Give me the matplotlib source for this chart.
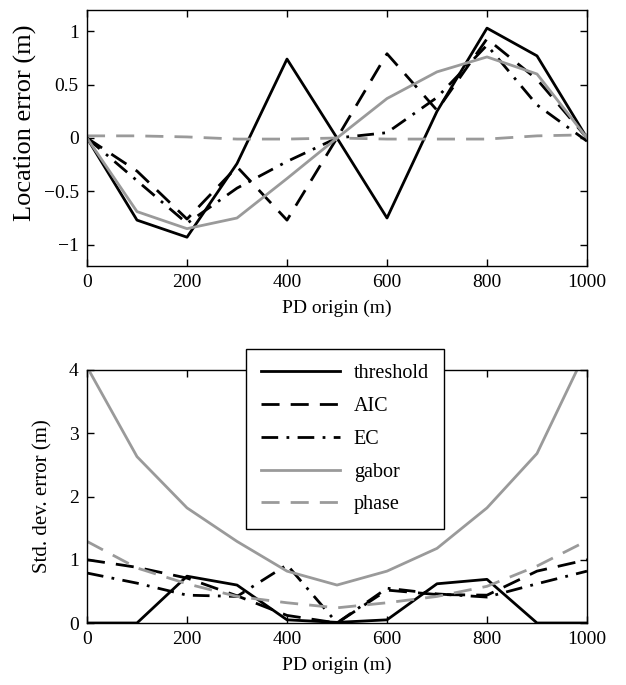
import matplotlib
matplotlib.use("Agg")
import matplotlib.pyplot as plt

plt.rcParams['font.family'] = ['Liberation Serif', 'DejaVu Serif']
plt.rcParams['mathtext.fontset'] = 'stix'

pd_origin = [0, 100, 200, 300, 400, 500, 600, 700, 800, 900, 1000]

# Top panel: location error (m)
loc_threshold = [0.0, -0.77, -0.93, -0.24, 0.74, 0.0, -0.75, 0.25, 1.03, 0.77, 0.0]
loc_aic       = [0.0, -0.31, -0.76, -0.27, -0.77, 0.0, 0.79, 0.26, 0.93, 0.55, 0.0]
loc_ec        = [0.0, -0.40, -0.80, -0.47, -0.22, 0.0, 0.05, 0.38, 0.87, 0.31, -0.03]
loc_gabor     = [0.0, -0.69, -0.85, -0.75, -0.38, 0.0, 0.37, 0.62, 0.76, 0.60, 0.0]
loc_phase     = [0.02, 0.02, 0.01, -0.01, -0.01, 0.0, -0.01, -0.01, -0.01, 0.02, 0.03]

# Bottom panel: std. dev. error (m)
sd_threshold = [0.0, 0.0, 0.74, 0.60, 0.05, 0.01, 0.05, 0.62, 0.69, 0.0, 0.0]
sd_aic       = [1.00, 0.88, 0.71, 0.43, 0.12, 0.0, 0.52, 0.45, 0.44, 0.82, 1.00]
sd_ec        = [0.79, 0.63, 0.44, 0.42, 0.92, 0.0, 0.55, 0.46, 0.41, 0.62, 0.82]
sd_gabor     = [4.05, 2.63, 1.82, 1.29, 0.82, 0.60, 0.82, 1.18, 1.82, 2.68, 4.33]
sd_phase     = [1.29, 0.87, 0.62, 0.42, 0.32, 0.24, 0.32, 0.42, 0.58, 0.90, 1.30]

labels = ['threshold', 'AIC', 'EC', 'gabor', 'phase']
top_yticks = [-1, -0.5, 0, 0.5, 1]
top_yticklabels = ['\u22121', '\u22120.5', '0', '0.5', '1']
bot_yticks = [0, 1, 2, 3, 4]
xticks = [0, 200, 400, 600, 800, 1000]

gray = '#9a9a9a'
styles = [
    dict(color='black', linestyle='-'),
    dict(color='black', dashes=(6.5, 4)),
    dict(color='black', dashes=(6, 3, 1, 3)),
    dict(color=gray, linestyle='-'),
    dict(color=gray, dashes=(6.5, 4)),
]

fig = plt.figure(figsize=(6.26, 6.85), dpi=100)
ax1 = fig.add_axes([87/626, 1-266/685, 500/626, 256/685])
ax2 = fig.add_axes([87/626, 1-623/685, 500/626, 253/685])

fs = 14
for ax, series in ((ax1, [loc_threshold, loc_aic, loc_ec, loc_gabor, loc_phase]),
                   (ax2, [sd_threshold, sd_aic, sd_ec, sd_gabor, sd_phase])):
    for y, st, lab in zip(series, styles, labels):
        ax.plot(pd_origin, y, lw=2, label=lab, **st)
    ax.set_xlim(0, 1000)
    ax.set_xticks(xticks)
    ax.set_xlabel('PD origin (m)', fontsize=fs, labelpad=6)
    ax.tick_params(direction='in', top=True, right=True, length=5, width=1,
                   labelsize=fs, pad=6)
    for sp in ax.spines.values():
        sp.set_linewidth(1)

ax1.set_ylim(-1.2, 1.2)
ax1.set_yticks(top_yticks)
ax1.set_yticklabels(top_yticklabels)
ax1.set_ylabel('Location error (m)', fontsize=19)
ax1.yaxis.set_label_coords(-0.10, 0.56)

ax2.set_ylim(0, 4)
ax2.set_yticks(bot_yticks)
ax2.set_ylabel('Std. dev. error (m)', fontsize=15, labelpad=12)

leg = ax2.legend(loc='upper left', bbox_to_anchor=(246/626, 1-349/685),
                 bbox_transform=fig.transFigure, borderaxespad=0,
                 fontsize=14.5, handlelength=3.9, labelspacing=0.68,
                 fancybox=False, framealpha=1, edgecolor='black',
                 borderpad=0.75, handletextpad=0.7)
leg.get_frame().set_linewidth(1)
leg.set_zorder(10)

fig.savefig('out.png', dpi=100)
